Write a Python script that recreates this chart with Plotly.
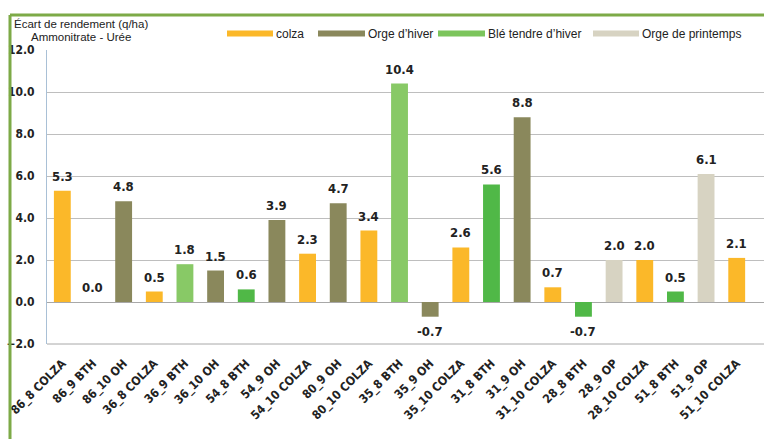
import plotly.graph_objects as go

categories = ["86_8 COLZA", "86_9 BTH", "86_10 OH", "36_8 COLZA", "36_9 BTH", "36_10 OH",
              "54_8 BTH", "54_9 OH", "54_10 COLZA", "80_9 OH", "80_10 COLZA", "35_8 BTH",
              "35_9 OH", "35_10 COLZA", "31_8 BTH", "31_9 OH", "31_10 COLZA", "28_8 BTH",
              "28_9 OP", "28_10 COLZA", "51_8 BTH", "51_9 OP", "51_10 COLZA"]
values = [5.3, 0.0, 4.8, 0.5, 1.8, 1.5, 0.6, 3.9, 2.3, 4.7, 3.4, 10.4,
          -0.7, 2.6, 5.6, 8.8, 0.7, -0.7, 2.0, 2.0, 0.5, 6.1, 2.1]
crop_type = ["colza", "bth", "oh", "colza", "bth", "oh", "bth", "oh", "colza", "oh", "colza", "bth",
             "oh", "colza", "bth", "oh", "colza", "bth", "op", "colza", "bth", "op", "colza"]
bth_shade = {"86_9 BTH": "light", "36_9 BTH": "light", "35_8 BTH": "light"}

series_names = {"colza": "colza", "oh": "Orge d’hiver", "bth": "Blé tendre d’hiver", "op": "Orge de printemps"}
series_colors = {"colza": "#FBB829", "oh": "#8A885C", "bth": "#7CC55C", "op": "#D7D3C2"}
bth_light, bth_dark = "#88C966", "#50B847"

NARROW = "DejaVu Sans Condensed, Liberation Sans Narrow, Liberation Sans, sans-serif"
REG = "Liberation Sans, Arial, sans-serif"

fig = go.Figure()
for key in ["colza", "oh", "bth", "op"]:
    ys, cols = [], []
    for c, v, t in zip(categories, values, crop_type):
        ys.append(v if t == key else None)
        if key == "bth":
            cols.append(bth_light if bth_shade.get(c) == "light" else bth_dark)
        else:
            cols.append(series_colors[key])
    fig.add_trace(go.Bar(
        x=categories, y=ys, name=series_names[key],
        marker=dict(color=cols, line=dict(width=0)),
        width=0.55, cliponaxis=False, showlegend=False, hoverinfo="skip",
    ))

L, R, T, B = 47, 0, 50, 95
W, H = 764, 439
pw, ph = W - L - R, H - T - B
def px(x): return (x - L) / pw
def py(y): return (H - B - y) / ph

fig.update_layout(
    width=W, height=H, barmode="overlay",
    margin=dict(l=L, r=R, t=T, b=B, autoexpand=False),
    paper_bgcolor="white", plot_bgcolor="white",
    font=dict(family=REG, size=12, color="#222222"),
    xaxis=dict(range=[-0.5, 22.89], tickangle=-45, showgrid=False, showline=False,
               tickfont=dict(family=NARROW, size=12, color="#222222", weight="bold"), ticks="",
               ticklabelstandoff=9),
    yaxis=dict(range=[-2, 12], dtick=2, tickformat=".1f", showgrid=True,
               gridcolor="#BEBEBE", gridwidth=1, zeroline=True, zerolinecolor="#A8A8A8",
               zerolinewidth=1, showline=True, linecolor="#A9C0D6", linewidth=1,
               tickfont=dict(family=NARROW, size=12, color="#222222", weight="bold"),
               ticklabelstandoff=9, ticks=""),
)

annotations = []
# data labels
for c, v in zip(categories, values):
    neg = v < 0
    annotations.append(dict(xref="x", yref="y", x=c, y=v, text=f"{v:.1f}", showarrow=False,
                            xanchor="center", yanchor="top" if neg else "bottom",
                            yshift=-5 if neg else 5,
                            font=dict(family=NARROW, size=13, color="#222222", weight="bold")))

shapes = []
# green frame
shapes.append(dict(type="line", xref="paper", yref="paper", x0=px(10), x1=px(764), y0=py(15), y1=py(15),
                   line=dict(color="#7DAA47", width=3)))
shapes.append(dict(type="line", xref="paper", yref="paper", x0=px(10), x1=px(10), y0=py(15), y1=py(439),
                   line=dict(color="#7DAA47", width=3)))
# bottom border of plot
shapes.append(dict(type="line", xref="paper", yref="paper", x0=0, x1=1, y0=0, y1=0,
                   line=dict(color="#A8A8A8", width=1)))

legend_items = [("colza", 227, 273), ("oh", 318, 365), ("bth", 438, 485), ("op", 593, 639)]
for key, x0, x1 in legend_items:
    shapes.append(dict(type="rect", xref="paper", yref="paper", x0=px(x0), x1=px(x1),
                       y0=py(36.5), y1=py(30.5), fillcolor=series_colors[key], line=dict(width=0)))
    annotations.append(dict(xref="paper", yref="paper", x=px(x1 + 1), y=py(33.5), text=series_names[key],
                            showarrow=False, xanchor="left", yanchor="middle",
                            font=dict(family=REG, size=12, color="#222222")))
annotations.append(dict(xref="paper", yref="paper", x=px(12), y=py(24), text="Écart de rendement (q/ha)",
                        showarrow=False, xanchor="left", yanchor="middle",
                        font=dict(family=REG, size=11.5, color="#222222")))
annotations.append(dict(xref="paper", yref="paper", x=px(29), y=py(37.5), text="Ammonitrate - Urée",
                        showarrow=False, xanchor="left", yanchor="middle",
                        font=dict(family=REG, size=11.5, color="#222222")))
fig.update_layout(shapes=shapes, annotations=annotations, hovermode=False)
fig.write_html("out.html", config={"displayModeBar": False, "staticPlot": True},
               post_script="document.body.style.margin='0';document.body.style.overflow='hidden';")
